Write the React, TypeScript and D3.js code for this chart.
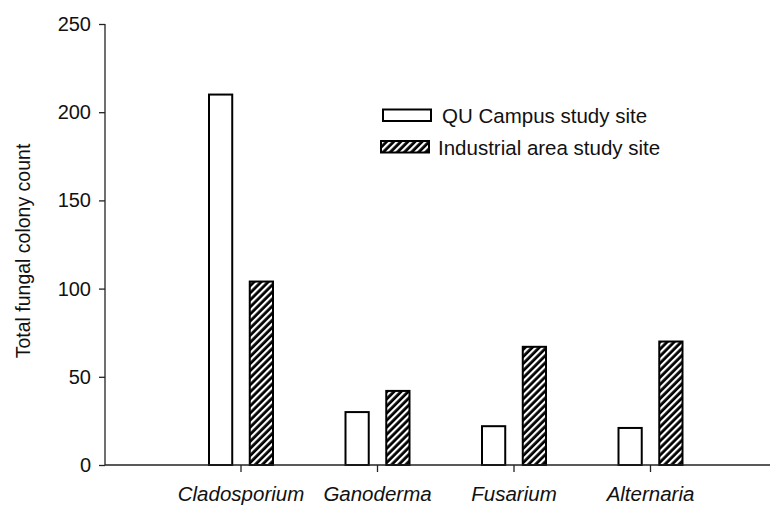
import * as d3 from 'd3';
import { useEffect, useRef } from 'react';

const categories = ['Cladosporium', 'Ganoderma', 'Fusarium', 'Alternaria'];
const campusValues = [210, 30, 22, 21];
const industrialValues = [104, 42, 67, 70];
const seriesNames = ['QU Campus study site', 'Industrial area study site'];
const yTicks = [0, 50, 100, 150, 200, 250];

export default function App() {
  const svgRef = useRef<SVGSVGElement>(null);

  useEffect(() => {
    const width = 773;
    const height = 507;
    const svg = d3.select(svgRef.current);
    svg.selectAll('*').remove();

    const font = '"Liberation Sans", Arial, sans-serif';

    // hatch pattern for industrial bars
    const defs = svg.append('defs');
    const pat = defs
      .append('pattern')
      .attr('id', 'hatch')
      .attr('patternUnits', 'userSpaceOnUse')
      .attr('width', 5)
      .attr('height', 5)
      .attr('patternTransform', 'rotate(45)');
    pat.append('rect').attr('width', 5).attr('height', 5).attr('fill', '#000');
    pat.append('rect').attr('x', 0).attr('width', 2.2).attr('height', 5).attr('fill', '#fff');

    const x = d3.scaleBand().domain(categories).range([172.75, 718.75]);
    const y = d3.scaleLinear().domain([0, 250]).range([465, 24]);
    const sub = d3.scaleBand().domain(seriesNames).range([-32, 32]).paddingInner(0.43);

    const data = categories.map((c, i) => ({ c, vals: [campusValues[i], industrialValues[i]] }));

    const groups = svg
      .selectAll('.grp')
      .data(data)
      .enter()
      .append('g')
      .attr('transform', (d) => `translate(${(x(d.c) as number) + x.bandwidth() / 2},0)`);

    groups
      .selectAll('rect')
      .data((d) => d.vals.map((v, k) => ({ v, k })))
      .enter()
      .append('rect')
      .attr('x', (d) => sub(seriesNames[d.k]) as number)
      .attr('width', sub.bandwidth())
      .attr('y', (d) => y(d.v))
      .attr('height', (d) => y(0) - y(d.v))
      .attr('fill', (d) => (d.k === 0 ? '#fff' : 'url(#hatch)'))
      .attr('stroke', '#000')
      .attr('stroke-width', 2);

    // y axis
    const yAxis = svg
      .append('g')
      .attr('transform', 'translate(105,0)')
      .call(d3.axisLeft(y).tickValues(yTicks).tickSize(6).tickPadding(8));
    yAxis.select('.domain').attr('d', `M0,${y(250)}V${y(0)}`).attr('stroke', '#222').attr('stroke-width', 1.3);
    yAxis.selectAll('.tick line').attr('stroke', '#222').attr('stroke-width', 1.3);
    yAxis.selectAll('.tick text').attr('font-family', font).attr('font-size', 20).attr('fill', '#111');

    // x axis
    const xAxis = svg
      .append('g')
      .attr('transform', `translate(0,${y(0)})`)
      .call(d3.axisBottom(x).tickSize(7).tickPadding(14));
    xAxis.select('.domain').attr('d', `M105,0H770`).attr('stroke', '#222').attr('stroke-width', 1.3);
    xAxis.selectAll('.tick line').attr('stroke', '#222').attr('stroke-width', 1.3);
    xAxis
      .selectAll('.tick text')
      .attr('font-family', font)
      .attr('font-size', 20.5)
      .attr('font-style', 'italic')
      .attr('fill', '#111');

    // y title
    svg
      .append('text')
      .attr('transform', 'translate(30,251) rotate(-90)')
      .attr('text-anchor', 'middle')
      .attr('font-family', font)
      .attr('font-size', 19.5)
      .attr('fill', '#111')
      .text('Total fungal colony count');

    // legend
    const legend = svg.append('g');
    const legendRows = [
      { name: seriesNames[0], fill: '#fff', rx: 383, ry: 109.5, tx: 442, ty: 123 },
      { name: seriesNames[1], fill: 'url(#hatch)', rx: 381, ry: 141, tx: 438, ty: 155 },
    ];
    legendRows.forEach((r) => {
      legend
        .append('rect')
        .attr('x', r.rx)
        .attr('y', r.ry)
        .attr('width', 48)
        .attr('height', 11.5)
        .attr('fill', r.fill)
        .attr('stroke', '#000')
        .attr('stroke-width', 2);
      legend
        .append('text')
        .attr('x', r.tx)
        .attr('y', r.ty)
        .attr('font-family', font)
        .attr('font-size', 20.5)
        .attr('fill', '#111')
        .text(r.name);
    });

    svg.attr('width', width).attr('height', height);
  }, []);

  return (
    <svg
      ref={svgRef}
      width={773}
      height={507}
      style={{ position: 'absolute', left: 0, top: 0, background: '#fff' }}
    />
  );
}
